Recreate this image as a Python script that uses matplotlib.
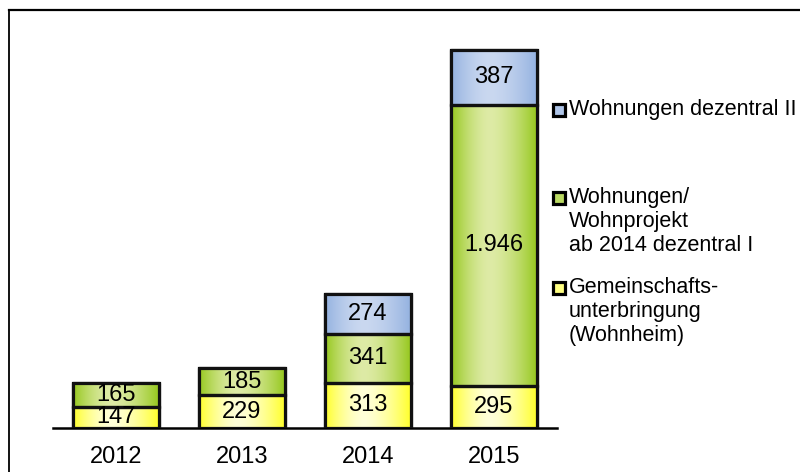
import numpy as np
import matplotlib
matplotlib.use("Agg")
import matplotlib.pyplot as plt
from matplotlib.lines import Line2D
from matplotlib.patches import Rectangle
from matplotlib.colors import to_rgb

plt.rcParams['font.family'] = ['Liberation Sans', 'DejaVu Sans']

years = ["2012", "2013", "2014", "2015"]
series_names = [
    "Gemeinschafts-\nunterbringung\n(Wohnheim)",
    "Wohnungen/\nWohnprojekt\nab 2014 dezentral I",
    "Wohnungen dezentral II",
]
gemeinschaft = [147, 229, 313, 295]
dezentral_1 = [165, 185, 341, 1946]
dezentral_2 = [0, 0, 274, 387]
series_values = [gemeinschaft, dezentral_1, dezentral_2]

edge_colors = ["#FFFF2A", "#96C81E", "#94B2E0"]
light_colors = ["#FFFFD8", "#DEEBA6", "#CAD8F0"]

W, H = 800, 472
fig = plt.figure(figsize=(W / 100, H / 100), dpi=100)
fig.patch.set_facecolor("white")

ax_left, ax_right = 53, 557
ax_bottom, ax_top = 428, 40
scale = 0.144  # px per unit
ax = fig.add_axes([ax_left / W, (H - ax_bottom) / H,
                   (ax_right - ax_left) / W, (ax_bottom - ax_top) / H])
ymax = (ax_bottom - ax_top) / scale

x = np.arange(len(years))
bar_w = 0.68


def grad_img(c_edge, c_light, n=200):
    e = np.array(to_rgb(c_edge))
    l = np.array(to_rgb(c_light))
    u = np.linspace(0, 1, n)
    d = np.where(u < 0.45, (0.45 - u) / 0.45, (u - 0.45) / 0.55)
    t = 1 - d ** 1.6
    img = e[None, :] * (1 - t[:, None]) + l[None, :] * t[:, None]
    return img[None, :, :]


def fmt(v):
    return f"{v:,}".replace(",", ".")


bottom = np.zeros(len(years))
for vals, ce, cl in zip(series_values, edge_colors, light_colors):
    vals = np.array(vals, dtype=float)
    bars = ax.bar(x, vals, bar_w, bottom=bottom, facecolor=ce,
                  edgecolor="black", linewidth=2.3, zorder=3)
    img = grad_img(ce, cl)
    for b, v in zip(bars, vals):
        if v <= 0:
            b.set_visible(False)
            continue
        bx, by = b.get_x(), b.get_y()
        bw, bh = b.get_width(), b.get_height()
        im = ax.imshow(img, extent=(bx, bx + bw, by, by + bh), aspect="auto",
                       zorder=3.5, interpolation="bilinear")
        im.set_clip_path(b)
        outline = Rectangle((bx, by), bw, bh, facecolor="none",
                            edgecolor="#111111", linewidth=2.3, zorder=4,
                            joinstyle="round")
        ax.add_patch(outline)
        ax.text(bx + bw / 2, by + bh / 2, fmt(int(v)), ha="center",
                va="center", fontsize=17, color="black", zorder=5)
    bottom = bottom + vals

ax.set_xlim(-0.5, len(years) - 0.5)
ax.set_ylim(0, ymax)
ax.set_xticks(x)
ax.set_xticklabels(years, fontsize=17)
ax.tick_params(axis="x", length=0, pad=13)
ax.set_yticks([])
for s in ["left", "right", "top"]:
    ax.spines[s].set_visible(False)
ax.spines["bottom"].set_linewidth(1.8)
ax.spines["bottom"].set_zorder(2)
ax.set_facecolor("none")

# outer frame
fig.add_artist(Line2D([9 / W, 9 / W], [0, 1 - 10 / H], color="black", lw=1.3))
fig.add_artist(Line2D([9 / W, 1], [1 - 10 / H, 1 - 10 / H], color="black", lw=1.6))

# legend (top to bottom: series reversed)
legend_y = [110, 198, 288]
for name, ce, cl, ly in zip(series_names[::-1], edge_colors[::-1],
                            light_colors[::-1], legend_y):
    mix = tuple((np.array(to_rgb(ce)) + np.array(to_rgb(cl))) / 2)
    sq = Rectangle((553 / W, 1 - (ly + 6) / H), 12 / W, 12 / H,
                   transform=fig.transFigure, facecolor=mix,
                   edgecolor="black", linewidth=2.3)
    fig.add_artist(sq)
    fig.text(569 / W, 1 - (ly - 11) / H, name, ha="left", va="top",
             fontsize=15.5, linespacing=1.18)

fig.savefig("out.png", dpi=100)
